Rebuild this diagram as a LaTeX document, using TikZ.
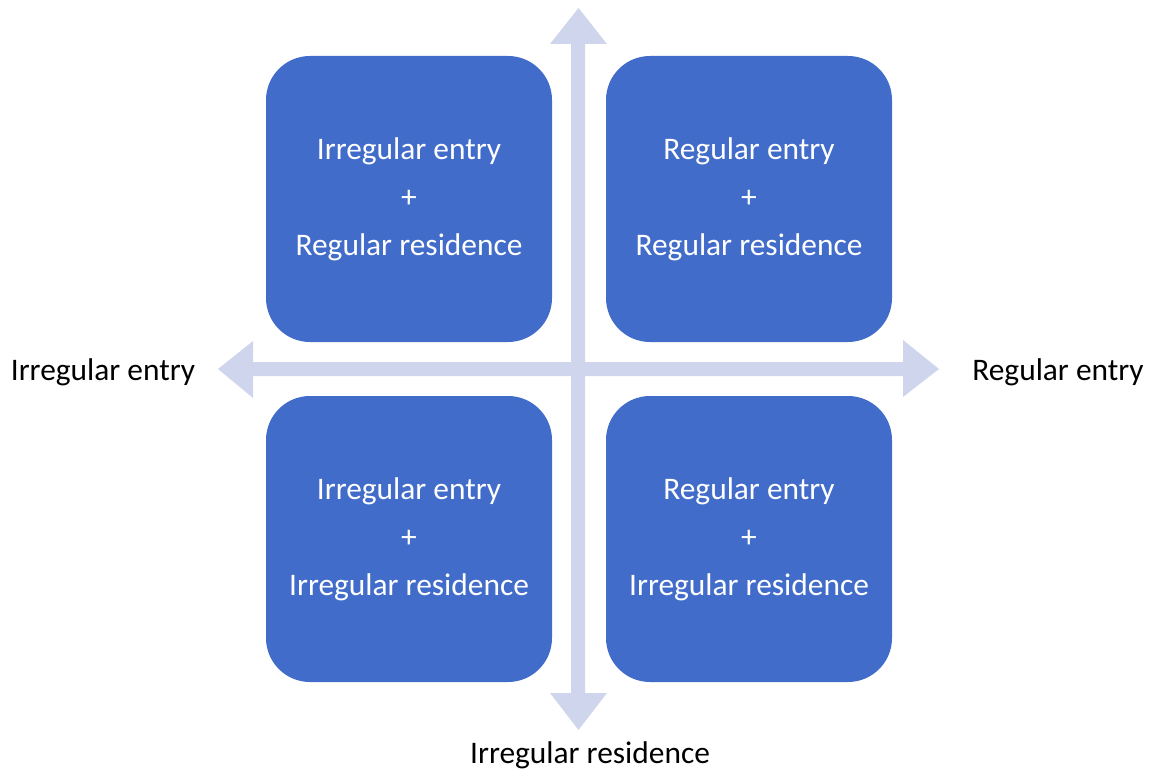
\documentclass[tikz,border=0pt]{standalone}
\usepackage{fontspec}
\setmainfont{Carlito}
\definecolor{boxblue}{RGB}{65,108,202}
\definecolor{axiscol}{RGB}{207,213,236}
\begin{document}
\begin{tikzpicture}[x=0.5pt,y=-0.5pt,
  quad/.style={fill=boxblue, rounded corners=22pt, minimum width=143pt, minimum height=143pt,
    inner sep=0pt, text=white, align=center, font=\fontsize{15.7pt}{24pt}\selectfont},
  axlabel/.style={text=black, font=\fontsize{15.7pt}{18pt}\selectfont, inner sep=0pt}]
\useasboundingbox (0,0) rectangle (1151,770);
% axes
\fill[axiscol] (571,44) -- (550,44) -- (578.5,8) -- (607,44) -- (585,44) -- (585,693) -- (607,693) -- (578.5,730) -- (550,693) -- (571,693) -- cycle;
\fill[axiscol] (253,362) -- (253,341) -- (218,369) -- (253,398) -- (253,376) -- (903,376) -- (903,397) -- (939,369) -- (903,340) -- (903,362) -- cycle;
% quadrants
\node[quad] (tl) at (409,199) {Irregular entry\\+\\Regular residence};
\node[quad] (tr) at (749,199) {Regular entry\\+\\Regular residence};
\node[quad] (bl) at (409,539) {Irregular entry\\+\\Irregular residence};
\node[quad] (br) at (749,539) {Regular entry\\+\\Irregular residence};
% axis labels
\node[axlabel] (left) at (103,372) {Irregular entry};
\node[axlabel] (right) at (1058,372) {Regular entry};
\node[axlabel] (bottom) at (590,755) {Irregular residence};
\end{tikzpicture}
\end{document}
